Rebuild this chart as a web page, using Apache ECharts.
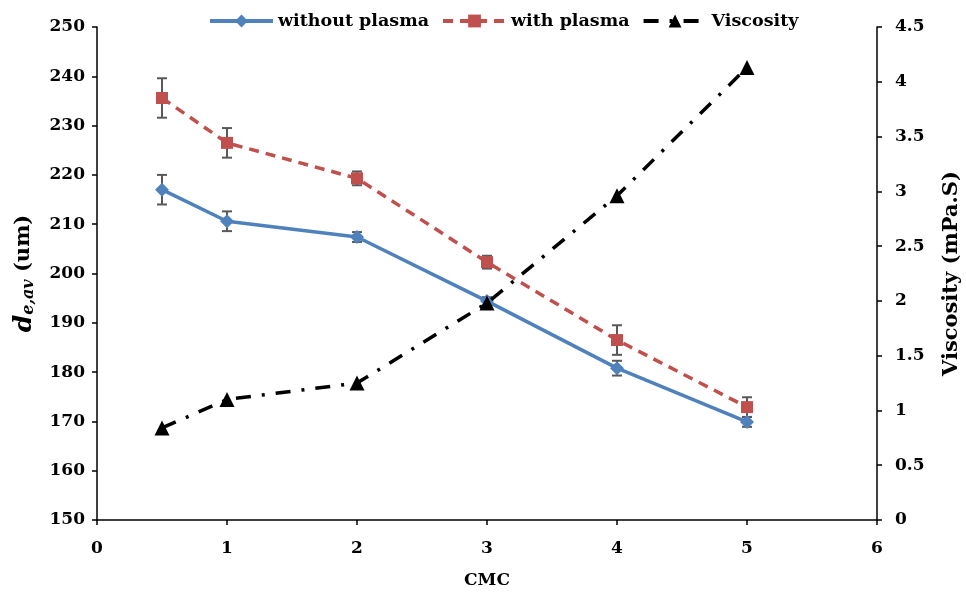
<!DOCTYPE html>
<html>
<head>
<meta charset="utf-8">
<script src="https://cdn.jsdelivr.net/npm/echarts@6/dist/echarts.min.js"></script>
<style>
  html, body { margin: 0; padding: 0; background: #fff; }
  #chart { width: 966px; height: 592px; }
</style>
</head>
<body>
<div id="chart"></div>
<script>
// CMC concentration (x) and measured droplet diameters / viscosity
const cmc = [0.5, 1, 2, 3, 4, 5];
const withoutPlasma = [217.0, 210.6, 207.4, 194.4, 180.8, 169.9];
const withoutPlasmaErr = [3.0, 2.0, 1.0, 0.8, 1.5, 1.0];
const withPlasma = [235.6, 226.5, 219.3, 202.3, 186.5, 172.9];
const withPlasmaErr = [4.0, 3.0, 1.4, 1.3, 3.0, 2.0];
const viscosity = [0.84, 1.10, 1.25, 1.98, 2.96, 4.13];

const FONT = 'DejaVu Serif';
const BLUE = '#4F81BD';
const RED = '#C0504D';
const ERR = '#595959';

function pairs(xs, ys) { return xs.map((x, i) => [x, ys[i]]); }
function errRows(xs, ys, es) { return xs.map((x, i) => [x, ys[i] - es[i], ys[i] + es[i]]); }

function errorBarItem(params, api) {
  const x = api.value(0);
  const lo = api.coord([x, api.value(1)]);
  const hi = api.coord([x, api.value(2)]);
  const cap = 5;
  const style = { stroke: ERR, lineWidth: 2 };
  return {
    type: 'group',
    children: [
      { type: 'line', shape: { x1: lo[0], y1: lo[1], x2: hi[0], y2: hi[1] }, style },
      { type: 'line', shape: { x1: lo[0] - cap, y1: lo[1], x2: lo[0] + cap, y2: lo[1] }, style },
      { type: 'line', shape: { x1: hi[0] - cap, y1: hi[1], x2: hi[0] + cap, y2: hi[1] }, style }
    ]
  };
}

const axisText = { fontFamily: FONT, fontWeight: 'bold', fontSize: 17, color: '#000' };
const axisLine = { show: true, lineStyle: { color: '#000', width: 1.5 } };
const axisTick = { show: true, inside: false, length: 5, lineStyle: { color: '#000', width: 1.5 } };

const chart = echarts.init(document.getElementById('chart'));
chart.setOption({
  animation: false,
  backgroundColor: '#fff',
  grid: { left: 97, right: 89, top: 27, bottom: 72, containLabel: false, outerBoundsMode: 'none' },
  legend: {
    top: 12,
    left: 208,
    padding: 0,
    itemWidth: 63,
    itemHeight: 16,
    itemGap: 12,
    lineStyle: { width: 4 },
    textStyle: { fontFamily: FONT, fontWeight: 'bold', fontSize: 17.5, color: '#000', padding: [0, 0, 0, 0] },
    data: ['without plasma', 'with plasma', 'Viscosity']
  },
  xAxis: {
    type: 'value', min: 0, max: 6, interval: 1,
    name: 'CMC', nameLocation: 'middle', nameGap: 52,
    nameTextStyle: { fontFamily: FONT, fontWeight: 'bold', fontSize: 17, color: '#000' },
    axisLine, axisTick,
    axisLabel: Object.assign({ margin: 20 }, axisText),
    splitLine: { show: false }
  },
  yAxis: [
    {
      type: 'value', min: 150, max: 250, interval: 10,
      name: '{d|d}{s|e,av}{u| (um)}', nameLocation: 'middle', nameGap: 60, nameRotate: 90,
      nameTextStyle: {
        rich: {
          d: { fontFamily: FONT, fontWeight: 'bold', fontStyle: 'italic', fontSize: 25, color: '#000' },
          s: { fontFamily: FONT, fontWeight: 'bold', fontStyle: 'italic', fontSize: 16, color: '#000', verticalAlign: 'bottom', padding: [10, 0, 0, 0] },
          u: { fontFamily: FONT, fontWeight: 'bold', fontSize: 21, color: '#000' }
        }
      },
      axisLine, axisTick,
      axisLabel: Object.assign({ margin: 12 }, axisText),
      splitLine: { show: false }
    },
    {
      type: 'value', min: 0, max: 4.5, interval: 0.5, position: 'right',
      name: 'Viscosity (mPa.S)', nameLocation: 'middle', nameGap: 64, nameRotate: 90,
      nameTextStyle: { fontFamily: FONT, fontWeight: 'bold', fontSize: 21, color: '#000' },
      axisLine, axisTick,
      axisLabel: Object.assign({ margin: 18 }, axisText),
      splitLine: { show: false }
    }
  ],
  series: [
    {
      name: 'without plasma', type: 'line', yAxisIndex: 0,
      data: pairs(cmc, withoutPlasma),
      symbol: 'diamond', symbolSize: 14,
      lineStyle: { color: BLUE, width: 3.5 },
      itemStyle: { color: BLUE },
      z: 3
    },
    {
      name: 'with plasma', type: 'line', yAxisIndex: 0,
      data: pairs(cmc, withPlasma),
      symbol: 'rect', symbolSize: 12,
      lineStyle: { color: RED, width: 3.5, type: [10, 7] },
      itemStyle: { color: RED },
      z: 3
    },
    {
      name: 'Viscosity', type: 'line', yAxisIndex: 1,
      data: pairs(cmc, viscosity),
      symbol: 'triangle', symbolSize: 15,
      lineStyle: { color: '#000', width: 3.5, type: [15, 11, 3, 11] },
      itemStyle: { color: '#000' },
      z: 4
    },
    {
      name: 'err-without', type: 'custom', yAxisIndex: 0,
      data: errRows(cmc, withoutPlasma, withoutPlasmaErr),
      renderItem: errorBarItem, encode: { x: 0, y: [1, 2] }, z: 2, silent: true
    },
    {
      name: 'err-with', type: 'custom', yAxisIndex: 0,
      data: errRows(cmc, withPlasma, withPlasmaErr),
      renderItem: errorBarItem, encode: { x: 0, y: [1, 2] }, z: 2, silent: true
    }
  ]
});
</script>
</body>
</html>
